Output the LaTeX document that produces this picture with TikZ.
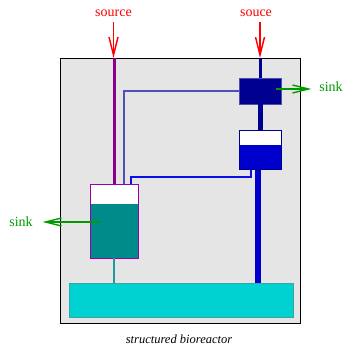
\documentclass[tikz,border=0pt]{standalone}
\usepackage{fontspec}
\setmainfont{Liberation Serif}
\usetikzlibrary{arrows.meta,calc}
\definecolor{bggray}{HTML}{E5E5E5}
\definecolor{cyanfill}{HTML}{00D2D2}
\definecolor{cyanedge}{HTML}{30A8A8}
\definecolor{tealfill}{HTML}{008B8B}
\definecolor{tealline}{HTML}{209A9A}
\definecolor{purpedge}{HTML}{9900AA}
\definecolor{purppipe}{HTML}{8B008B}
\definecolor{navyfill}{HTML}{000090}
\definecolor{bluefill}{HTML}{0000CC}
\definecolor{linkblue}{rgb}{0.05,0.05,0.9}
\definecolor{slateline}{HTML}{5050B8}
\definecolor{sinkgreen}{HTML}{009A00}
\definecolor{srcred}{HTML}{FF0000}
\begin{document}
\begin{tikzpicture}[x=1pt,y=-1pt,
  box/.style={rectangle,inner sep=0pt,outer sep=0pt},
  lbl/.style={inner sep=0pt,outer sep=0pt,anchor=base,font=\fontsize{14}{16}\selectfont},
  srcarrow/.style={draw=srcred,line width=1.4pt,-{Straight Barb[length=18pt,width=9pt,line width=1.4pt]}},
  sinkarrow/.style={draw=sinkgreen,line width=1.4pt,-{Straight Barb[length=16pt,width=8pt,line width=1.4pt]}},
  thinline/.style={line width=1.1pt}
]
\useasboundingbox (0,0) rectangle (345,347);
% reactor
\node[box,draw=black,line width=0.8pt,fill=bggray,minimum width=240pt,minimum height=265pt] (reactor) at (180,190.5) {};
\node[box,draw=cyanedge,line width=0.8pt,fill=cyanfill,minimum width=224pt,minimum height=34pt] (bath) at (181,300) {};
% left tank
\node[box,draw=purpedge,line width=1pt,fill=white,minimum width=48pt,minimum height=74pt,
  path picture={\fill[tealfill] (path picture bounding box.south west) rectangle ([yshift=54pt]path picture bounding box.south east);}] (ltank) at (114,221) {};
% navy box
\node[box,draw=navyfill!70!white,line width=0.8pt,fill=navyfill,minimum width=42pt,minimum height=26pt] (navybox) at (260,91) {};
% right tank
\node[box,draw=navyfill,line width=1pt,fill=white,minimum width=42pt,minimum height=39pt,
  path picture={\fill[bluefill] (path picture bounding box.south west) rectangle ([yshift=25pt]path picture bounding box.south east);}] (rtank) at (260,150.5) {};
% pipes
\draw[purppipe,line width=3pt] (ltank.north |- reactor.north) -- (ltank.north);
\draw[navyfill,line width=3pt] (navybox.north |- reactor.north) -- (navybox.north);
\draw[navyfill,line width=5pt] (navybox.south) -- (rtank.north);
\draw[bluefill,line width=6pt] ([xshift=-2pt]rtank.south) -- ([xshift=-2pt]rtank.south |- bath.north);
\draw[tealline,line width=1.5pt] (ltank.south) -- (ltank.south |- bath.north);
\draw[draw=slateline,thinline] ([xshift=10pt]ltank.north) |- (navybox.west);
\coordinate (lnk) at ([xshift=-9pt]rtank.south);
\draw[draw=linkblue,thinline] ([xshift=17pt]ltank.north) |- ([yshift=7pt]ltank.north -| lnk) -- (lnk);
% labels
\node[lbl,text=srcred] (src1) at (113.5,16.5) {source};
\node[lbl,text=srcred] (src2) at (256,16.5) {souce};
\node[lbl,text=sinkgreen] (sinkL) at (21,226) {sink};
\node[lbl,text=sinkgreen] (sinkR) at (331,92) {sink};
\node[inner sep=0pt,anchor=base,font=\fontsize{12.5}{14}\selectfont\itshape] (caption) at (179,343) {structured bioreactor};
% arrows
\coordinate (lsrc) at (99,222);
\coordinate (rsrc) at (276,89);
\draw[srcarrow] ([yshift=-5.5pt]src1.south) -- (src1.south |- reactor.north);
\draw[srcarrow] ([xshift=4pt,yshift=-5.5pt]src2.south) -- ([xshift=4pt]src2.south |- reactor.north);
\draw[sinkarrow] (lsrc) -- ([xshift=10pt]sinkL.east |- lsrc);
\draw[sinkarrow] (rsrc) -- ([xshift=-8pt]sinkR.west |- rsrc);
\end{tikzpicture}
\end{document}
